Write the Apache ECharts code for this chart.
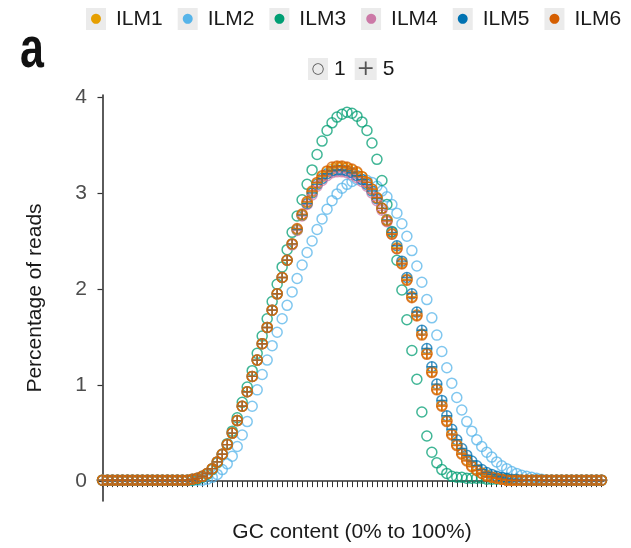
<!DOCTYPE html>
<html><head><meta charset="utf-8">
<script src="https://cdn.jsdelivr.net/npm/echarts@6/dist/echarts.min.js"></script>
<style>html,body{margin:0;padding:0;background:#fff}#c{width:631px;height:548px}</style>
</head><body><div id="c"></div>
<script>
// GC content categories (0% .. 100%)
const gc = [0,1,2,3,4,5,6,7,8,9,10,11,12,13,14,15,16,17,18,19,20,21,22,23,24,25,26,27,28,29,30,31,32,33,34,35,36,37,38,39,40,41,42,43,44,45,46,47,48,49,50,51,52,53,54,55,56,57,58,59,60,61,62,63,64,65,66,67,68,69,70,71,72,73,74,75,76,77,78,79,80,81,82,83,84,85,86,87,88,89,90,91,92,93,94,95,96,97,98,99,100];
const yTicks = [0,1,2,3,4];
const sampleNames = ['ILM1','ILM2','ILM3','ILM4','ILM5','ILM6'];
const shapeNames = ['1','5'];

const ilm1 = [0.01,0.01,0.01,0.01,0.01,0.01,0.01,0.01,0.01,0.01,
0.01,0.01,0.01,0.01,0.01,0.01,0.01,0.01,0.02,0.03,
0.05,0.08,0.13,0.20,0.28,0.38,0.50,0.63,0.78,0.93,
1.09,1.26,1.43,1.60,1.78,1.95,2.12,2.30,2.47,2.62,
2.77,2.90,3.01,3.10,3.17,3.22,3.25,3.27,3.27,3.26,
3.24,3.21,3.17,3.11,3.04,2.95,2.84,2.72,2.58,2.43,
2.27,2.10,1.92,1.73,1.53,1.33,1.14,0.96,0.79,0.63,
0.49,0.38,0.29,0.22,0.16,0.12,0.085,0.06,0.04,0.03,
0.02,0.01,0.01,0.01,0.01,0.01,0.01,0.01,0.01,0.01,
0.01,0.01,0.01,0.01,0.01,0.01,0.01,0.01,0.01,0.01,0.01];

const ilm2 = [0.01,0.01,0.01,0.01,0.01,0.01,0.01,0.01,0.01,0.01,
0.01,0.01,0.01,0.01,0.01,0.01,0.01,0.01,0.01,0.01,
0.01,0.02,0.04,0.07,0.12,0.18,0.26,0.36,0.48,0.62,
0.78,0.95,1.11,1.26,1.41,1.55,1.69,1.83,1.97,2.11,
2.25,2.38,2.50,2.62,2.73,2.83,2.92,2.99,3.05,3.09,
3.12,3.14,3.14,3.13,3.11,3.07,3.02,2.96,2.88,2.79,
2.68,2.55,2.40,2.24,2.07,1.89,1.70,1.52,1.35,1.18,
1.02,0.87,0.74,0.62,0.52,0.43,0.36,0.30,0.25,0.20,
0.16,0.13,0.10,0.08,0.06,0.05,0.04,0.03,0.02,0.01,
0.01,0.01,0.01,0.01,0.01,0.01,0.01,0.01,0.01,0.01,0.01];

const ilm3 = [0.01,0.01,0.01,0.01,0.01,0.01,0.01,0.01,0.01,0.01,
0.01,0.01,0.01,0.01,0.01,0.01,0.01,0.01,0.01,0.02,
0.04,0.07,0.12,0.19,0.28,0.39,0.52,0.66,0.82,0.98,
1.15,1.33,1.51,1.69,1.87,2.05,2.23,2.41,2.59,2.76,
2.93,3.09,3.24,3.40,3.54,3.65,3.73,3.79,3.82,3.84,
3.83,3.80,3.74,3.65,3.52,3.35,3.13,2.88,2.60,2.30,
1.99,1.68,1.36,1.06,0.72,0.47,0.30,0.19,0.12,0.08,
0.05,0.04,0.04,0.03,0.03,0.03,0.03,0.02,0.02,0.02,
0.02,0.02,0.01,0.01,0.01,0.01,0.01,0.01,0.01,0.01,
0.01,0.01,0.01,0.01,0.01,0.01,0.01,0.01,0.01,0.01,0.01];

const ilm4 = [0.01,0.01,0.01,0.01,0.01,0.01,0.01,0.01,0.01,0.01,
0.01,0.01,0.01,0.01,0.01,0.01,0.01,0.01,0.02,0.03,
0.05,0.08,0.13,0.20,0.28,0.38,0.50,0.63,0.78,0.93,
1.09,1.26,1.43,1.60,1.78,1.95,2.12,2.30,2.46,2.61,
2.76,2.88,2.98,3.07,3.13,3.18,3.21,3.22,3.22,3.21,
3.19,3.16,3.12,3.07,3.00,2.92,2.82,2.70,2.57,2.42,
2.27,2.10,1.92,1.73,1.53,1.33,1.14,0.96,0.79,0.63,
0.49,0.38,0.29,0.22,0.16,0.12,0.085,0.06,0.04,0.03,
0.02,0.01,0.01,0.01,0.01,0.01,0.01,0.01,0.01,0.01,
0.01,0.01,0.01,0.01,0.01,0.01,0.01,0.01,0.01,0.01,0.01];

const ilm5 = [0.01,0.01,0.01,0.01,0.01,0.01,0.01,0.01,0.01,0.01,
0.01,0.01,0.01,0.01,0.01,0.01,0.01,0.01,0.02,0.03,
0.05,0.08,0.13,0.20,0.28,0.38,0.50,0.63,0.78,0.93,
1.09,1.26,1.43,1.60,1.78,1.95,2.12,2.30,2.47,2.62,
2.77,2.89,3.00,3.09,3.15,3.20,3.23,3.24,3.24,3.23,
3.21,3.18,3.14,3.09,3.02,2.94,2.84,2.72,2.59,2.45,
2.29,2.12,1.95,1.76,1.57,1.38,1.19,1.01,0.84,0.68,
0.54,0.43,0.34,0.27,0.21,0.16,0.12,0.09,0.07,0.05,
0.04,0.03,0.02,0.02,0.01,0.01,0.01,0.01,0.01,0.01,
0.01,0.01,0.01,0.01,0.01,0.01,0.01,0.01,0.01,0.01,0.01];

const ilm6 = [0.01,0.01,0.01,0.01,0.01,0.01,0.01,0.01,0.01,0.01,
0.01,0.01,0.01,0.01,0.01,0.01,0.01,0.01,0.02,0.03,
0.05,0.08,0.13,0.20,0.28,0.38,0.50,0.63,0.78,0.93,
1.09,1.26,1.43,1.60,1.78,1.95,2.12,2.30,2.47,2.63,
2.78,2.91,3.02,3.11,3.18,3.23,3.27,3.28,3.28,3.27,
3.25,3.22,3.17,3.11,3.04,2.95,2.84,2.71,2.57,2.42,
2.26,2.09,1.91,1.72,1.52,1.32,1.13,0.95,0.78,0.62,
0.48,0.37,0.28,0.21,0.15,0.11,0.08,0.05,0.04,0.03,
0.02,0.01,0.01,0.01,0.01,0.01,0.01,0.01,0.01,0.01,
0.01,0.01,0.01,0.01,0.01,0.01,0.01,0.01,0.01,0.01,0.01];

const colors = {ILM1:'#E69F00', ILM2:'#56B4E9', ILM3:'#009E73', ILM4:'#CC79A7', ILM5:'#0072B2', ILM6:'#D55E00'};
const values = {ILM1:ilm1, ILM2:ilm2, ILM3:ilm3, ILM4:ilm4, ILM5:ilm5, ILM6:ilm6};

const PLUS = 'path://M5,0L5,10M0,5L10,5';
function pts(arr){ return gc.map((g,i)=>[g, arr[i]]); }
function circleSeries(n){
  return {name:n, type:'scatter', symbol:'circle', symbolSize:10, silent:true, clip:false,
    data:pts(values[n]), itemStyle:{color:'rgba(0,0,0,0)', borderColor:colors[n], borderWidth:1.5, opacity:0.75}};
}
function plusSeries(n){
  return {name:n, type:'scatter', symbol:PLUS, symbolSize:10, silent:true, clip:false,
    data:pts(values[n]), itemStyle:{color:'rgba(0,0,0,0)', borderColor:colors[n], borderWidth:1.4, opacity:0.8}};
}

const series = [
  circleSeries('ILM2'), circleSeries('ILM3'), circleSeries('ILM4'),
  circleSeries('ILM5'), circleSeries('ILM1'), circleSeries('ILM6'),
  plusSeries('ILM4'), plusSeries('ILM1'), plusSeries('ILM5'), plusSeries('ILM6'),
  {name:'1', type:'scatter', data:[]},
  {name:'5', type:'scatter', data:[]}
];

const rich1 = {t:{fontSize:21, color:'#1a1a1a', fontFamily:'Liberation Sans', padding:[0,0,0,10]}};
sampleNames.forEach((n,i)=>{ rich1['b'+i] = {width:20, height:22, align:'center', backgroundColor:'#EBEBEB', color:colors[n], fontSize:13, fontFamily:'DejaVu Sans'}; });
const rich2 = {
  t:{fontSize:21, color:'#1a1a1a', fontFamily:'Liberation Sans', padding:[0,0,0,6]},
  o:{width:20, height:22, align:'center', backgroundColor:'#EBEBEB', color:'#555', fontSize:15, fontFamily:'DejaVu Sans'},
  p:{width:22, height:22, align:'center', backgroundColor:'#EBEBEB', color:'#555', fontSize:22, fontFamily:'DejaVu Sans'}
};

const chart = echarts.init(document.getElementById('c'), null, {renderer:'canvas'});
chart.setOption({
  animation:false,
  backgroundColor:'#fff',
  graphic:[{type:'text', left:20, top:22, scaleX:0.74,
    style:{text:'a', font:'bold 58px "Liberation Sans", Arial, sans-serif', fill:'#111'}}],
  legend:[
    {data:sampleNames, left:80, top:8, width:560, padding:0, itemWidth:0, itemHeight:0, itemGap:9, selectedMode:false,
     formatter:(name)=>'{b'+sampleNames.indexOf(name)+'|●}{t|'+name+'}', textStyle:{rich:rich1}},
    {data:shapeNames, left:303, top:58, padding:0, itemWidth:0, itemHeight:0, itemGap:4, selectedMode:false,
     formatter:(name)=> (name==='1' ? '{o|○}' : '{p|+}') + '{t|'+name+'}', textStyle:{rich:rich2}}
  ],
  grid:{left:100, right:27, top:95, bottom:46, containLabel:false},
  xAxis:{type:'value', min:-0.5, max:100.5,
    name:'GC content (0% to 100%)', nameLocation:'middle', nameGap:21,
    nameTextStyle:{fontSize:21, color:'#1a1a1a', fontFamily:'Liberation Sans'},
    axisLine:{show:true, lineStyle:{color:'#333', width:1.6}},
    axisTick:{show:true, customValues:gc, length:6, lineStyle:{color:'#333', width:1}},
    axisLabel:{show:false}, splitLine:{show:false}},
  yAxis:{type:'value', min:-0.207, max:4.02,
    name:'Percentage of reads', nameLocation:'middle', nameGap:54, nameRotate:90,
    nameTextStyle:{fontSize:21, color:'#1a1a1a', fontFamily:'Liberation Sans'},
    axisLine:{show:true, lineStyle:{color:'#333', width:1.6}},
    axisTick:{show:true, customValues:yTicks, length:5, lineStyle:{color:'#333', width:1.2}},
    axisLabel:{customValues:yTicks, fontSize:21, color:'#4d4d4d', margin:13, fontFamily:'Liberation Sans'},
    splitLine:{show:false}},
  series:series
});
</script></body></html>
